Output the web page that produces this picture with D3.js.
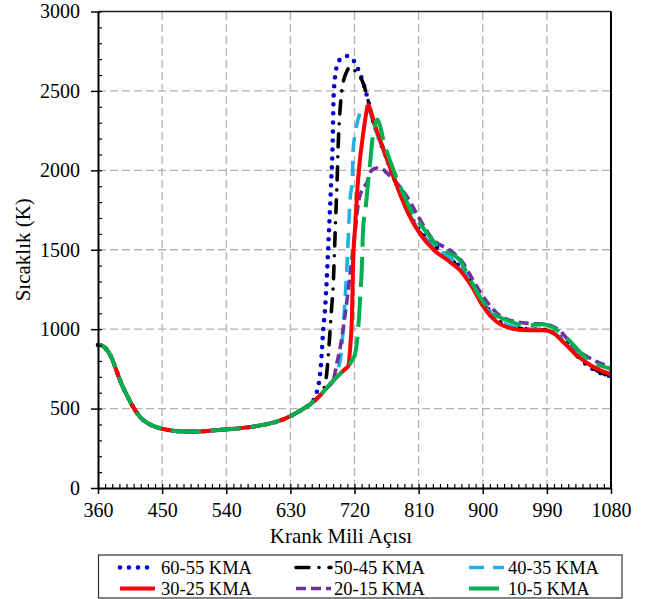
<!DOCTYPE html>
<html><head><meta charset="utf-8">
<script src="https://cdn.jsdelivr.net/npm/d3@7/dist/d3.min.js"></script>
<style>
body{margin:0;background:#fff;}
svg text{font-family:"Liberation Serif","Times New Roman",serif;fill:#000;}
</style></head>
<body><svg id="c" width="657" height="599"></svg>
<script>
// ---- data (crank angle in degrees, temperature in K) ----
const compression = [[360,900],[364,898],[368,890],[372,872],[378,830],[385,750],[392,665],[400,590],[410,505],[420,442],[430,408],[440,386],[450,373],[465,361],[480,356],[495,355],[510,358],[525,363],[540,369],[560,377],[580,388],[600,405],[615,424],[630,452],[645,490],[655,518],[660,535],[670,575],[680,625],[690,675],[700,720],[707,750],[714,784]];

const s6055 = [[666,590],[670,660],[673,780],[676,990],[679,1150],[681,1310],[684,1600],[687,1900],[689.5,2200],[690.5,2440],[692.5,2580],[696,2665],[702,2708],[710,2720],[716,2708],[722,2665],[728,2605],[734,2525],[739,2441],[745,2330],[752,2230],[760,2135],[770,2012],[784,1858],[797,1728],[810,1628],[829,1539],[850,1460],[868,1392],[885,1290],[900,1170],[911,1110],[925,1042],[940,1012],[962,1000],[985,997],[1000,975],[1015,925],[1030,850],[1046,775],[1060,735],[1069,716],[1080,705]];

const s5045 = [[678,640],[681,721],[684,880],[686,1011],[688,1140],[690,1263],[692,1500],[694,1750],[695.6,1935],[697,2145],[700,2398],[704,2548],[709,2620],[714,2654],[720,2630],[725,2600],[730.5,2567],[735,2510],[739,2441],[745,2330],[752,2230],[760,2140],[770,2015],[784,1855],[797,1725],[810,1620],[830,1525],[855,1440],[870,1380],[885,1285],[900,1165],[915,1080],[930,1030],[950,1005],[970,997],[990,993],[1000,972],[1015,915],[1037,810],[1060,740],[1080,698]];

const s4035 = [[693,705],[696,745],[700,805],[704,992],[707,1200],[709.6,1413],[714,1830],[717,1937],[718,2126],[721,2230],[725,2320],[732,2390],[737,2400],[741,2380],[746,2300],[752,2225],[760,2135],[770,2010],[784,1860],[797,1725],[810,1620],[830,1525],[855,1445],[870,1385],[885,1285],[900,1165],[915,1080],[930,1035],[950,1008],[970,1000],[990,997],[1000,975],[1015,920],[1035,830],[1055,765],[1080,728]];

const s3025 = [[711,765],[714,886],[716.5,1098],[718,1413],[721,1650],[724,1878],[727,2040],[731,2190],[735,2320],[739.5,2410],[743,2370],[748,2295],[756,2190],[770,2018],[784,1850],[797,1715],[812,1600],[831,1500],[854,1423],[868,1371],[885,1266],[901,1140],[920,1045],[939,1006],[962,993],[985,993],[997,982],[1013,919],[1032,836],[1051,773],[1080,715]];

const s2015 = [[695,780],[700,886],[707,1098],[714,1350],[721,1624],[726,1812],[731,1880],[737,1918],[744,2000],[751,2015],[758,2010],[766,1981],[780,1918],[794,1832],[810,1705],[831,1560],[854,1497],[873,1413],[885,1320],[901,1203],[920,1100],[948,1045],[970,1035],[990,1030],[1008,990],[1030,880],[1056,804],[1080,762]];

const s105 = [[718,815],[721,847],[725,992],[728,1200],[730.5,1413],[732,1624],[736,1780],[739,1920],[742,2050],[745,2190],[749,2290],[752,2320],[756,2280],[760,2200],[770,2060],[784,1900],[800,1740],[817,1634],[836,1528],[854,1476],[868,1434],[878,1350],[896,1203],[915,1100],[934,1056],[962,1024],[985,1031],[997,1014],[1018,943],[1046,817],[1080,750]];

const seriesNames = ["60-55 KMA","50-45 KMA","40-35 KMA","30-25 KMA","20-15 KMA","10-5 KMA"];
const seriesData = [s6055, s5045, s4035, s3025, s2015, s105];
const seriesStart = [660, 675, 690, 707, 690, 714]; // last shared compression angle
const drawOrder = [0, 1, 2, 4, 3, 5];

const xTicks = [360,450,540,630,720,810,900,990,1080];
const yTicks = [0,500,1000,1500,2000,2500,3000];
const xTitle = "Krank Mili Açısı";
const yTitle = "Sıcaklık (K)";

// ---- styles ----
const styles = [
  {color:"#0000CC", width:4.6, dash:"0 9", cap:"round"},
  {color:"#000000", width:3.6, dash:"13 10 0 10", cap:"round"},
  {color:"#1FB1E8", width:3.6, dash:"15 9", cap:"butt"},
  {color:"#FF0000", width:4, dash:null, cap:"butt"},
  {color:"#7030A0", width:3.6, dash:"10 5", cap:"butt"},
  {color:"#00B050", width:4, dash:"30 10", cap:"butt"}
];

const svg = d3.select("#c");
const X0=98, X1=611, Y0=488, Y1=11.5;
const x = d3.scaleLinear().domain([360,1080]).range([X0,X1]);
const y = d3.scaleLinear().domain([0,3000]).range([Y0,Y1]);

// gridlines
const grid = svg.append("g").attr("stroke","#b4b4b4").attr("stroke-width",1.3).attr("stroke-dasharray","8 4");
xTicks.slice(1,-1).forEach(v=>grid.append("line").attr("x1",x(v)).attr("x2",x(v)).attr("y1",Y0).attr("y2",Y1));
yTicks.slice(1,-1).forEach(v=>grid.append("line").attr("y1",y(v)).attr("y2",y(v)).attr("x1",X0).attr("x2",X1));

// series
const line = d3.line().x(d=>x(d[0])).y(d=>y(d[1])).curve(d3.curveMonotoneX);
const lines = svg.append("g").attr("fill","none");
drawOrder.forEach(i=>{
  const s = seriesData[i];
  const pts = compression.filter(p=>p[0]<=seriesStart[i]).concat(s);
  const st = styles[i];
  const p = lines.append("path").attr("d",line(pts)).attr("stroke",st.color)
    .attr("stroke-width",st.width).attr("stroke-linecap",st.cap).attr("stroke-linejoin","round");
  if(st.dash) p.attr("stroke-dasharray",st.dash);
});

// axes
const minorX = d3.range(360,1081,10);
const minorY = d3.range(0,3001,100);
svg.append("g").attr("transform",`translate(0,${Y0})`)
  .call(d3.axisBottom(x).tickValues(minorX).tickSize(-4).tickSizeOuter(0).tickFormat(""))
  .call(g=>g.selectAll("line").attr("stroke","#000").attr("stroke-width",1.2))
  .call(g=>g.select(".domain").remove());
svg.append("g").attr("transform",`translate(${X0},0)`)
  .call(d3.axisLeft(y).tickValues(minorY).tickSize(-4).tickSizeOuter(0).tickFormat(""))
  .call(g=>g.selectAll("line").attr("stroke","#000").attr("stroke-width",1.2))
  .call(g=>g.select(".domain").remove());

const gx = svg.append("g").attr("transform",`translate(0,${Y0})`)
  .call(d3.axisBottom(x).tickValues(xTicks).tickSize(6).tickSizeOuter(0).tickPadding(9).tickFormat(d3.format("d")));
gx.select(".domain").attr("stroke","#000").attr("stroke-width",2);
gx.selectAll("line").attr("stroke","#000").attr("stroke-width",1.5);
gx.selectAll("text").attr("font-size",20).attr("font-family","Liberation Serif");

const gy = svg.append("g").attr("transform",`translate(${X0},0)`)
  .call(d3.axisLeft(y).tickValues(yTicks).tickSize(7).tickSizeOuter(0).tickPadding(11).tickFormat(d3.format("d")));
gy.select(".domain").attr("stroke","#000").attr("stroke-width",2);
gy.selectAll("line").attr("stroke","#000").attr("stroke-width",1.5);
gy.selectAll("text").attr("font-size",20).attr("font-family","Liberation Serif");

// frame top/right
svg.append("line").attr("x1",X0).attr("x2",X1).attr("y1",Y1).attr("y2",Y1).attr("stroke","#222").attr("stroke-width",1.5);
svg.append("line").attr("x1",X1).attr("x2",X1).attr("y1",Y1).attr("y2",Y0).attr("stroke","#000").attr("stroke-width",2);

// axis titles
svg.append("text").attr("x",341).attr("y",543).attr("text-anchor","middle").attr("font-size",21).text(xTitle);
svg.append("text").attr("transform",`translate(30,${(Y0+Y1)/2}) rotate(-90)`).attr("text-anchor","middle").attr("font-size",21).text(yTitle);

// legend
const LX0=98.5, LX1=622, LY0=555, LY1=598;
svg.append("rect").attr("x",LX0).attr("y",LY0).attr("width",LX1-LX0).attr("height",LY1-LY0)
  .attr("fill","#fff").attr("stroke","#333").attr("stroke-width",1.2);
const colSample = [120, 296, 469];
const colText = [161, 334, 508];
const rowY = [567.5, 588.5];
seriesNames.forEach((n,i)=>{
  const c=i%3, r=Math.floor(i/3), st=styles[i];
  const l = svg.append("line").attr("x1",colSample[c]).attr("x2",colSample[c]+35)
    .attr("y1",rowY[r]).attr("y2",rowY[r]).attr("stroke",st.color).attr("stroke-width",st.width)
    .attr("stroke-linecap",st.cap);
  if(st.dash) l.attr("stroke-dasharray",st.dash);
  svg.append("text").attr("x",colText[c]).attr("y",rowY[r]).attr("dy","0.35em").attr("font-size",18.5).text(n);
});
</script></body></html>
